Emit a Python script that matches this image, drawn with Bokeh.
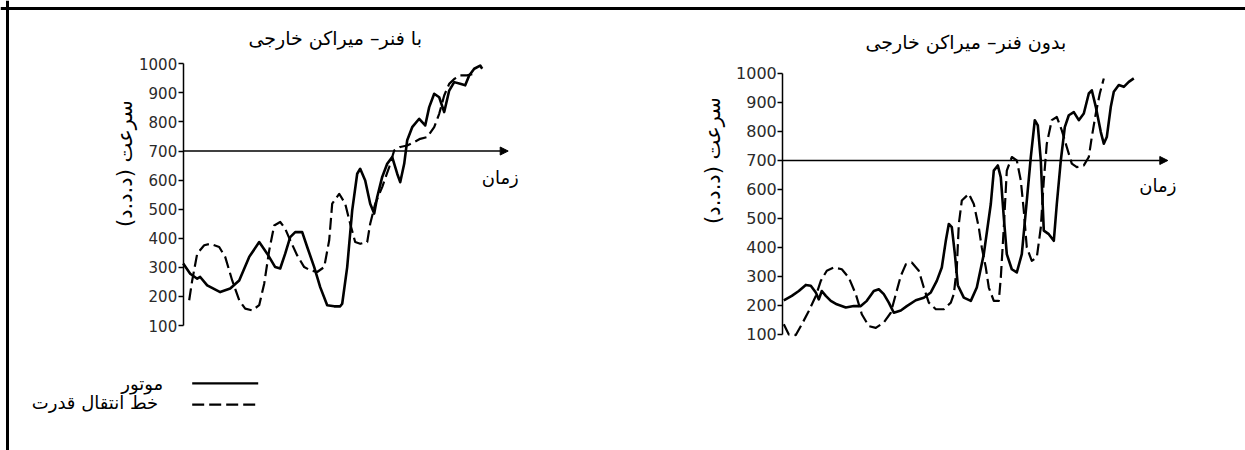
from bokeh.plotting import figure
from bokeh.models import Range1d, LinearAxis, FixedTicker, Arrow, NormalHead, Label, Span
from bokeh.embed import file_html
from bokeh.resources import INLINE
import math

# ---------------- data ----------------
y_ticks = [100, 200, 300, 400, 500, 600, 700, 800, 900, 1000]
time_axis_level = 700

title_left = "با فنر– میراکن خارجی"
title_right = "بدون فنر– میراکن خارجی"
y_title = "سرعت (د.د.د)"
x_title = "زمان"
legend_engine = "موتور"
legend_drive = "خط انتقال قدرت"

# left chart (with spring damper): time (arbitrary units), speed
left_engine_t = [0, 7, 14, 17, 24, 37, 47, 56, 66, 76, 84, 92, 97, 102, 107, 112, 119, 124, 131, 137,
                 144, 151, 157, 159, 164, 169, 174, 177, 182, 187, 191, 194, 199, 204, 209, 214, 217,
                 221, 224, 229, 236, 242, 246, 251, 256, 261, 266, 271, 277, 282, 286, 291, 297, 299]
left_engine_v = [313, 278, 261, 267, 238, 215, 227, 255, 336, 387, 347, 301, 296, 347, 404, 421, 421, 370, 301, 232,
                 170, 166, 166, 175, 301, 496, 622, 639, 599, 519, 485, 542, 611, 656, 679, 622, 593,
                 656, 737, 782, 811, 788, 851, 897, 885, 834, 908, 937, 931, 926, 960, 983, 994, 983]

left_drive_t = [6, 9, 14, 21, 27, 36, 42, 49, 56, 62, 69, 76, 81, 86, 91, 97, 102, 107, 114, 121, 127, 134,
                141, 146, 149, 156, 162, 167, 172, 177, 184, 187, 192, 199, 206, 211, 217, 224, 231, 237,
                244, 251, 256, 261, 266, 271, 277, 284, 291]
left_drive_v = [187, 255, 347, 376, 381, 370, 336, 255, 187, 158, 152, 170, 244, 358, 444, 456, 433, 393, 341, 301, 290, 284,
                301, 393, 519, 553, 519, 450, 387, 381, 387, 450, 519, 576, 645, 702, 714, 719, 731, 742,
                748, 782, 828, 891, 931, 948, 960, 960, 966]

# right chart (without spring damper)
right_engine_t = [1, 9, 16, 23, 28, 33, 36, 39, 43, 48, 54, 63, 71, 78, 84, 91, 96, 101, 106, 111, 118, 124,
                  133, 141, 148, 154, 159, 163, 166, 169, 172, 175, 181, 188, 194, 201, 208, 211, 215, 218,
                  221, 224, 229, 234, 239, 244, 248, 252, 255, 258, 261, 266, 271, 274, 278, 282, 286, 291,
                  296, 301, 306, 309, 313, 318, 321, 324, 328, 331, 336, 341, 346, 351]
right_engine_v = [218, 233, 250, 271, 268, 245, 221, 250, 233, 216, 204, 193, 198, 198, 216, 250, 256, 239, 210, 175, 183, 198,
                  218, 227, 245, 285, 331, 423, 481, 470, 380, 270, 227, 216, 262, 377, 550, 665, 683, 642,
                  504, 377, 325, 314, 377, 562, 712, 839, 821, 700, 458, 446, 423, 550, 700, 815, 856, 867,
                  839, 862, 931, 942, 885, 798, 758, 781, 885, 937, 960, 954, 971, 983]

right_drive_t = [1, 6, 13, 19, 26, 33, 38, 44, 51, 59, 66, 73, 79, 86, 93, 101, 108, 113, 118, 123, 129, 136,
                 141, 146, 153, 161, 168, 171, 174, 176, 179, 186, 191, 196, 199, 203, 206, 211, 216, 218,
                 221, 224, 229, 234, 238, 241, 244, 249, 254, 258, 261, 264, 269, 274, 279, 284, 289, 294,
                 301, 306, 309, 313, 317, 321]
right_drive_v = [135, 100, 98, 135, 181, 233, 285, 320, 331, 325, 296, 239, 170, 129, 123, 141, 175, 239, 302, 342, 348, 320,
                 262, 210, 187, 187, 210, 239, 330, 480, 562, 585, 550, 469, 400, 331, 262, 216, 216, 296,
                 469, 665, 712, 700, 631, 527, 400, 354, 366, 469, 631, 758, 839, 850, 804, 746, 689, 677,
                 683, 712, 781, 862, 931, 983]

# ---------------- figure ----------------
W, H = 1245, 450
p = figure(width=W, height=H, x_range=Range1d(-182.7, 1062.3), y_range=Range1d(-329.8, 1217.7),
           x_axis_type=None, y_axis_type=None, output_backend="svg", toolbar_location=None,
           min_border=0, outline_line_color=None, background_fill_color="white", border_fill_color="white")
p.extra_x_ranges = {"r": Range1d(-782.3, 462.7)}
p.extra_y_ranges = {"r": Range1d(-300.0, 1251.7)}

FONT = "DejaVu Sans"


def style_axis(ax, size):
    ax.ticker = FixedTicker(ticks=y_ticks)
    ax.bounds = (100, 1000)
    ax.axis_line_width = 1.5
    ax.axis_line_color = "black"
    ax.major_tick_out = 5
    ax.major_tick_in = 0
    ax.major_tick_line_width = 1.5
    ax.minor_tick_out = 0
    ax.minor_tick_in = 0
    ax.major_label_standoff = 1
    ax.major_label_text_font = FONT
    ax.major_label_text_font_size = size
    ax.major_label_text_color = "#2a2a2a"


ax_l = LinearAxis(fixed_location=0)
style_axis(ax_l, "15px")
p.add_layout(ax_l, "left")

ax_r = LinearAxis(fixed_location=0, x_range_name="r", y_range_name="r")
style_axis(ax_r, "16px")
p.add_layout(ax_r, "left")

# curves
p.line(left_engine_t, left_engine_v, line_color="black", line_width=2.6, line_join="round")
p.line(left_drive_t, left_drive_v, line_color="black", line_width=2.2, line_dash="12 5", line_join="round")
p.line(right_engine_t, right_engine_v, line_color="black", line_width=2.6, line_join="round",
       x_range_name="r", y_range_name="r")
p.line(right_drive_t, right_drive_v, line_color="black", line_width=2.2, line_dash="12 5", line_join="round",
       x_range_name="r", y_range_name="r")

# time arrows
p.add_layout(Arrow(end=NormalHead(size=8, fill_color="black", line_color="black"),
                   x_start=0, y_start=time_axis_level, x_end=325, y_end=time_axis_level,
                   line_width=1.5, line_color="black"))
p.add_layout(Arrow(end=NormalHead(size=8, fill_color="black", line_color="black"),
                   x_start=0, y_start=time_axis_level, x_end=385, y_end=time_axis_level,
                   line_width=1.5, line_color="black", x_range_name="r", y_range_name="r"))

# texts
def lab(text, x, y, size="18px", align="center", angle=0.0, rng=None):
    kw = dict(x=x, y=y, text=text, text_font=FONT, text_font_size=size, text_align=align,
              text_baseline="middle", angle=angle, text_color="black")
    if rng:
        kw.update(x_range_name=rng, y_range_name=rng)
    p.add_layout(Label(**kw))


lab(title_left, 152, 1090, size="19px")
lab(title_right, 183, 1107, size="19px", rng="r")
lab(x_title, 317, 609)
lab(x_title, 375, 614, rng="r")
lab(y_title, -58, 657, size="21px", angle=math.pi / 2)
lab(y_title, -70, 700, size="21px", angle=math.pi / 2, rng="r")
lab(legend_engine, -20, -99, align="right")
lab(legend_drive, -25, -165, align="right")

# legend samples
p.add_layout(Arrow(end=None, x_start=9, y_start=-99, x_end=75, y_end=-99, line_width=2.2, line_color="black"))
p.add_layout(Arrow(end=None, x_start=9, y_start=-172, x_end=75, y_end=-172, line_width=2.2,
                   line_color="black", line_dash="12 5"))

# frame (top and left border)
p.add_layout(Span(location=-175.7, dimension="height", line_width=3, line_color="black"))
p.add_layout(Span(location=1190.2, dimension="width", line_width=3, line_color="black"))

open("out.html", "w").write(file_html(p, INLINE))
